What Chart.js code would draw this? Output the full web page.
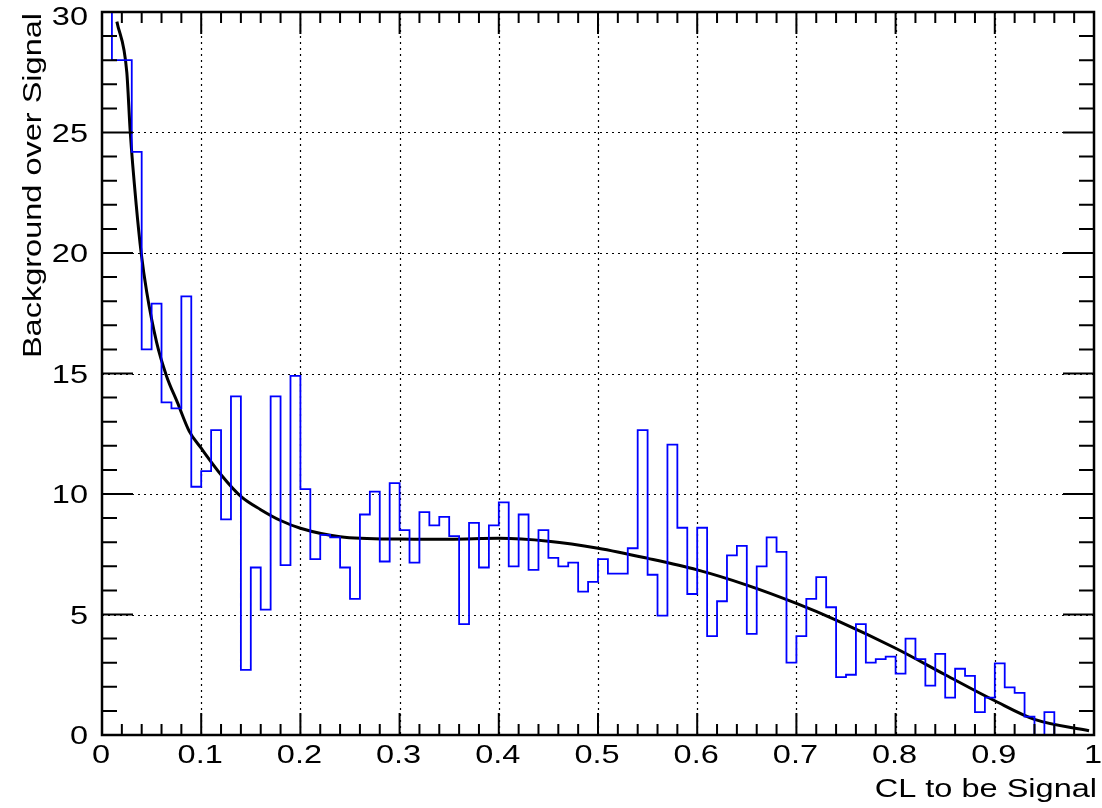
<!DOCTYPE html>
<html>
<head>
<meta charset="utf-8">
<script src="https://cdn.jsdelivr.net/npm/chart.js@4.4.1/dist/chart.umd.min.js"></script>
<style>
  body { margin: 0; background: #fff; }
  canvas { display: block; }
</style>
</head>
<body>
<canvas id="myChart" width="1102" height="808"></canvas>
<script>
// histogram: 100 bins between 0 and 1, value of each bin
const nBins = 100;
const binValues = [
    33, 28.0, 28.0, 24.2, 16.0, 17.9, 13.8, 13.55, 18.2, 10.3,
    10.95, 12.65, 8.95, 14.05, 2.7, 6.95, 5.2, 14.05, 7.05, 14.9,
    10.2, 7.3, 8.3, 8.2, 6.95, 5.65, 9.15, 10.1, 7.2, 10.45,
    8.5, 7.15, 9.25, 8.7, 9.05, 8.25, 4.6, 8.8, 6.95, 8.7,
    9.65, 7.0, 9.15, 6.85, 8.5, 7.35, 7.0, 7.15, 5.95, 6.35,
    7.3, 6.7, 6.7, 7.75, 12.65, 6.65, 4.95, 12.05, 8.6, 5.85,
    8.6, 4.1, 5.55, 7.45, 7.85, 4.2, 7.0, 8.2, 7.6, 3.0,
    4.1, 5.65, 6.55, 5.3, 2.4, 2.5, 4.6, 3.0, 3.15, 3.25,
    2.55, 4.0, 3.15, 2.05, 3.37, 1.55, 2.75, 2.45, 0.95, 1.55,
    2.97, 1.98, 1.75, 0.76, 0, 0.95, 0, 0, 0, 0
];

// fitted curve
const curveX = [0.015, 0.025, 0.0285, 0.0345, 0.0395, 0.045, 0.055, 0.065, 0.076, 0.088,
                0.1, 0.12, 0.14, 0.16, 0.18, 0.2, 0.24, 0.3, 0.35, 0.4,
                0.45, 0.5, 0.55, 0.6, 0.65, 0.7, 0.74, 0.8, 0.85, 0.9,
                0.94, 0.995];
const curveY = [29.6, 27.5, 25.0, 22.0, 20.0, 18.4, 16.3, 14.9, 13.8, 12.6,
                11.9, 10.8, 9.9, 9.35, 8.9, 8.58, 8.23, 8.13, 8.12, 8.16,
                8.04, 7.75, 7.33, 6.85, 6.22, 5.46, 4.77, 3.6, 2.5, 1.42,
                0.65, 0.18];

const xTicks = [0, 0.1, 0.2, 0.3, 0.4, 0.5, 0.6, 0.7, 0.8, 0.9, 1];
const yTicks = [0, 5, 10, 15, 20, 25, 30];
const xTitle = 'CL to be Signal';
const yTitle = 'Background over Signal';

const fontFamily = '"Liberation Sans", Arial, Helvetica, sans-serif';
const labelFont = '26px ' + fontFamily;
const stretch = 1.25;   // the reference text is drawn wider than Arial

const histPoints = [];
for (let i = 0; i < nBins; i++) {
    histPoints.push({ x: i / nBins, y: binValues[i] });
}
histPoints.push({ x: 1, y: binValues[nBins - 1] });

const curvePoints = curveX.map((x, i) => ({ x: x, y: curveY[i] }));

function wideText(ctx, text, x, y, align, angle) {
    ctx.save();
    ctx.translate(x, y);
    if (angle) ctx.rotate(angle);
    ctx.scale(stretch, 1);
    ctx.textAlign = align;
    ctx.fillText(text, 0, 0);
    ctx.restore();
}

// ROOT-like frame: dotted grid, ticks on all four sides pointing inward
const rootFrame = {
    id: 'rootFrame',
    beforeDatasetsDraw(chart) {
        const ctx = chart.ctx;
        const a = chart.chartArea;
        const xs = chart.scales.x, ys = chart.scales.y;
        ctx.save();
        ctx.strokeStyle = '#000';
        ctx.lineWidth = 1.2;
        ctx.setLineDash([2, 4]);
        ctx.beginPath();
        xTicks.slice(1, -1).forEach(v => {
            const px = Math.round(xs.getPixelForValue(v)) + 0.5;
            ctx.moveTo(px, a.top);
            ctx.lineTo(px, a.bottom);
        });
        yTicks.slice(1, -1).forEach(v => {
            const py = Math.round(ys.getPixelForValue(v)) + 0.5;
            ctx.moveTo(a.left, py);
            ctx.lineTo(a.right, py);
        });
        ctx.stroke();
        ctx.restore();
    },
    afterDatasetsDraw(chart) {
        const ctx = chart.ctx;
        const a = chart.chartArea;
        const xs = chart.scales.x, ys = chart.scales.y;
        ctx.save();
        ctx.strokeStyle = '#000';
        ctx.lineWidth = 2;
        ctx.beginPath();
        // x ticks: major every 0.1, minor every 0.02
        for (let k = 0; k <= 50; k++) {
            const len = (k % 5 === 0) ? 22 : 11;
            const px = xs.getPixelForValue(k / 50);
            ctx.moveTo(px, a.bottom);
            ctx.lineTo(px, a.bottom - len);
            ctx.moveTo(px, a.top);
            ctx.lineTo(px, a.top + len);
        }
        // y ticks: major every 5, minor every 1
        for (let k = 0; k <= 30; k++) {
            const len = (k % 5 === 0) ? 31 : 15;
            const py = ys.getPixelForValue(k);
            ctx.moveTo(a.left, py);
            ctx.lineTo(a.left + len, py);
            ctx.moveTo(a.right, py);
            ctx.lineTo(a.right - len, py);
        }
        ctx.stroke();
        ctx.lineWidth = 2.5;
        ctx.strokeRect(a.left, a.top, a.right - a.left, a.bottom - a.top);

        // tick labels and axis titles
        ctx.fillStyle = '#000';
        ctx.font = labelFont;
        ctx.textBaseline = 'alphabetic';
        xs.ticks.forEach(t => {
            const px = xs.getPixelForValue(t.value);
            wideText(ctx, String(Math.round(t.value * 10) / 10), px - 1, a.bottom + 28, 'center');
        });
        ys.ticks.forEach(t => {
            const py = Math.max(ys.getPixelForValue(t.value), 16);
            wideText(ctx, String(t.value), a.left - 14, py + 9, 'right');
        });
        wideText(ctx, xTitle, 1097, 797, 'right');
        wideText(ctx, yTitle, 41, 13, 'right', -Math.PI / 2);
        ctx.restore();
    }
};

const myChart = new Chart(document.getElementById('myChart'), {
    type: 'line',
    data: {
        datasets: [
            {
                label: 'hist',
                data: histPoints,
                stepped: true,
                borderColor: '#0000ff',
                borderWidth: 1.8,
                pointRadius: 0,
                fill: false,
            },
            {
                label: 'fit',
                data: curvePoints,
                borderColor: '#000000',
                borderWidth: 3,
                pointRadius: 0,
                cubicInterpolationMode: 'monotone',
                fill: false,
            }
        ]
    },
    options: {
        responsive: false,
        animation: false,
        devicePixelRatio: 1,
        layout: { padding: { top: 12, right: 8, left: 0, bottom: 0 } },
        plugins: {
            legend: { display: false },
            tooltip: { enabled: false },
        },
        scales: {
            x: {
                type: 'linear',
                min: 0,
                max: 1,
                afterBuildTicks: s => { s.ticks = xTicks.map(v => ({ value: v })); },
                afterFit: s => { s.height = 73; s.paddingLeft = 0; s.paddingRight = 0; },
                grid: { display: false, drawTicks: false },
                border: { display: false },
                ticks: { display: false },
                title: { display: false },
            },
            y: {
                min: 0,
                max: 30,
                afterBuildTicks: s => { s.ticks = yTicks.map(v => ({ value: v })); },
                afterFit: s => { s.width = 102; s.paddingTop = 0; s.paddingBottom = 0; },
                grid: { display: false, drawTicks: false },
                border: { display: false },
                ticks: { display: false },
                title: { display: false },
            },
        },
    },
    plugins: [rootFrame],
});
</script>
</body>
</html>
